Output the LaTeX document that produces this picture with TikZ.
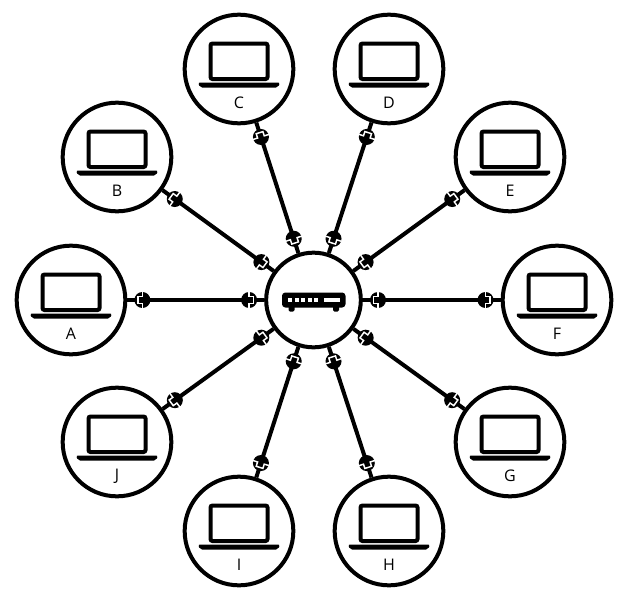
\documentclass[tikz,border=0pt]{standalone}
\usepackage{fontspec}
\setmainfont{Open Sans}
\usetikzlibrary{calc}
\tikzset{
  stationnode/.style={draw,circle,line width=3pt,minimum size=81.5pt,inner sep=0pt},
  hubnode/.style={draw,circle,line width=3pt,minimum size=71pt,inner sep=0pt},
  cablenode/.style={line width=3pt},
  labelnode/.style={font=\fontsize{12pt}{14pt}\selectfont,inner sep=0pt},
  pics/laptop/.style={code={
    \draw[line width=3pt,rounded corners=1.5pt] (-28.5,-25.5) rectangle (28.5,10);
    \fill[rounded corners=1.5pt] (-41,13.5) -- (41,13.5) -- (39,18.5) -- (-39,18.5) -- cycle;
  }},
  pics/plug/.style={code={
    \node[circle,fill=black,minimum size=12pt,inner sep=0pt] (-body) at (0,0) {};
    \draw[white,line width=1.1pt] (0,-8.5) -- (0,-3.5) -- (4.5,-3.5) -- (4.5,3.5) -- (0,3.5) -- (0,8.5);
  }},
}
\begin{document}
\begin{tikzpicture}[x=0.75pt,y=-0.75pt]
  \useasboundingbox (0,0) rectangle (635,596);
  % --- hub with the router ---
  \node[hubnode] (hub) at (313.5,300) {};
  \fill[rounded corners=2.5pt] (282,292.5) rectangle (345.5,307.5);
  \fill[rounded corners=1pt] (288.5,305) rectangle (294.5,311.5);
  \fill[rounded corners=1pt] (333,305) rectangle (339,311.5);
  \foreach \x in {288.3,294.8,301.3,307.8,314.3}{
    \fill[white] (\x,298) rectangle +(4,4.3);
  }
  \fill[white] (324,298) rectangle (340,302.3);
  % --- stations, cables and plugs ---
  \foreach \name/\x/\y in {A/71/300,B/117/157,C/239/69,D/389/69,E/510/157,
                           F/557/300,G/510/442,H/389/531,I/239/531,J/117/442}{
    \node[stationnode] (st\name) at (\x,\y) {};
    \pic (top\name) at (st\name) {laptop};
    \node[labelnode] (lab\name) at ($(st\name)+(0,34)$) {\name};
    \draw[cablenode] (hub) -- (st\name)
      pic (near\name) [pos=.11,sloped,allow upside down,xscale=-1] {plug}
      pic (far\name) [pos=.89,sloped,allow upside down] {plug};
  }
\end{tikzpicture}
\end{document}
